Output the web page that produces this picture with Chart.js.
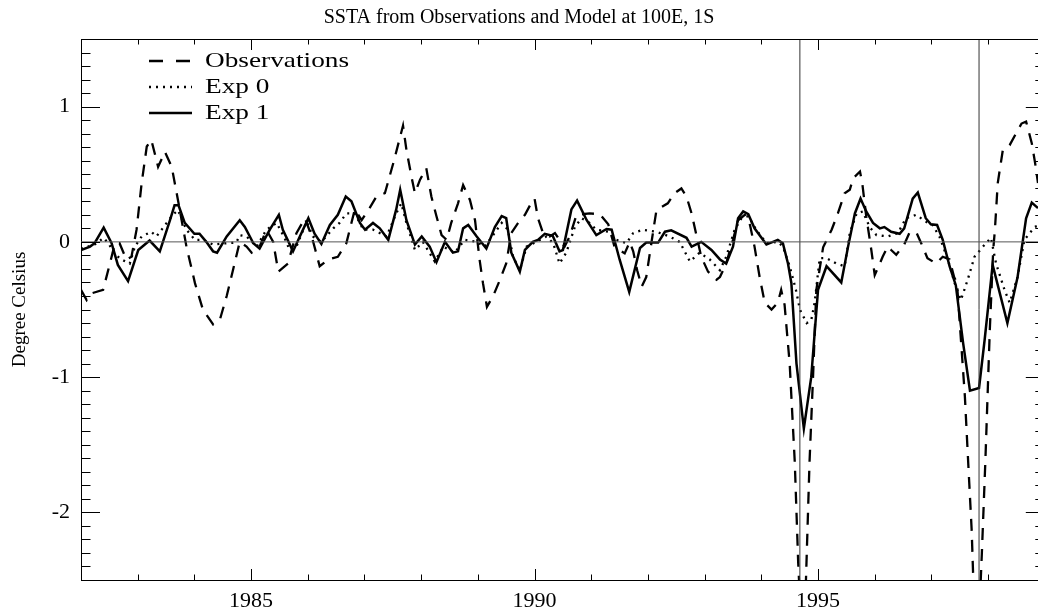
<!DOCTYPE html>
<html><head><meta charset="utf-8">
<script src="https://cdn.jsdelivr.net/npm/chart.js@4/dist/chart.umd.min.js"></script>
<style>html,body{margin:0;padding:0;background:#fff;overflow:hidden}#wrap{width:1038px;height:612px}</style>
</head><body><div id="wrap"><canvas id="c" width="1038" height="612"></canvas></div>
<script>
const chartTitle = 'SSTA from Observations and Model at 100E, 1S';
const yAxisTitle = 'Degree Celsius';
const seriesNames = ['Observations', 'Exp 0', 'Exp 1'];
const xMajorTicks = [1985, 1990, 1995];
const yMajorTicks = [-2, -1, 0, 1];
const markerYears = [1994.68, 1997.84];

const obsYears = [1982.00,1982.10,1982.19,1982.39,1982.51,1982.60,1982.68,1982.80,1982.89,1982.98,1983.07,1983.16,1983.24,1983.36,1983.48,1983.60,1983.71,1983.86,1984.01,1984.15,1984.33,1984.45,1984.57,1984.68,1984.80,1984.92,1985.01,1985.15,1985.27,1985.39,1985.48,1985.65,1985.80,1985.95,1986.07,1986.21,1986.36,1986.53,1986.68,1986.83,1986.95,1987.09,1987.21,1987.36,1987.52,1987.68,1987.74,1987.83,1987.89,1987.98,1988.09,1988.18,1988.27,1988.36,1988.45,1988.53,1988.65,1988.74,1988.86,1988.95,1989.03,1989.09,1989.16,1989.27,1989.39,1989.50,1989.59,1989.71,1989.83,1989.92,1990.00,1990.06,1990.15,1990.27,1990.36,1990.44,1990.53,1990.62,1990.74,1990.97,1991.15,1991.30,1991.41,1991.59,1991.68,1991.74,1991.81,1991.89,1991.97,1992.06,1992.15,1992.35,1992.47,1992.59,1992.68,1992.77,1992.86,1992.94,1993.06,1993.21,1993.27,1993.38,1993.50,1993.59,1993.71,1993.80,1993.88,1993.97,1994.06,1994.18,1994.29,1994.35,1994.41,1994.50,1994.59,1994.65,1994.71,1994.78,1994.85,1994.91,1994.97,1995.09,1995.24,1995.35,1995.47,1995.56,1995.62,1995.74,1995.78,1995.85,1995.94,1996.00,1996.09,1996.14,1996.23,1996.29,1996.38,1996.52,1996.61,1996.73,1996.82,1996.93,1997.08,1997.20,1997.32,1997.40,1997.45,1997.50,1997.59,1997.65,1997.71,1997.77,1997.84,1997.89,1997.95,1998.00,1998.03,1998.09,1998.12,1998.17,1998.26,1998.38,1998.49,1998.59,1998.67,1998.77,1998.83,1998.88];
const obsValues = [-0.355,-0.43,-0.38,-0.355,-0.16,-0.01,-0.01,-0.13,-0.11,0.09,0.435,0.705,0.755,0.555,0.665,0.555,0.31,-0.035,-0.305,-0.50,-0.61,-0.575,-0.40,-0.21,0.0,-0.035,-0.08,-0.035,0.09,0.0,-0.22,-0.16,0.065,0.175,0.04,-0.18,-0.13,-0.11,-0.01,0.24,0.16,0.25,0.335,0.36,0.60,0.86,0.68,0.48,0.36,0.46,0.545,0.335,0.19,0.05,0.015,0.14,0.285,0.42,0.31,0.16,-0.13,-0.305,-0.48,-0.40,-0.28,-0.16,0.065,0.14,0.20,0.27,0.32,0.175,0.065,0.04,0.065,0.015,-0.035,0.04,0.20,0.21,0.205,0.13,-0.035,-0.085,0.0,-0.07,-0.21,-0.33,-0.26,-0.01,0.235,0.285,0.36,0.395,0.335,0.21,0.04,-0.11,-0.22,-0.28,-0.26,-0.16,0.015,0.16,0.20,0.125,-0.035,-0.26,-0.45,-0.50,-0.45,-0.355,-0.465,-0.90,-1.63,-2.37,-2.9,-2.6,-1.63,-1.02,-0.355,-0.04,0.09,0.21,0.36,0.385,0.47,0.52,0.435,0.19,-0.06,-0.245,-0.16,-0.11,-0.035,-0.06,-0.095,-0.02,0.065,0.075,-0.01,-0.12,-0.16,-0.11,-0.13,-0.26,-0.30,-0.60,-1.14,-1.64,-2.13,-2.9,-2.8,-2.3,-1.64,-1.02,-0.65,-0.06,0.09,0.435,0.68,0.715,0.80,0.875,0.89,0.73,0.58,0.435];

const exp0Years = [1982.00,1982.24,1982.40,1982.50,1982.57,1982.71,1982.86,1982.95,1983.07,1983.24,1983.33,1983.62,1983.71,1983.86,1984.01,1984.15,1984.33,1984.57,1984.74,1984.80,1984.92,1985.10,1985.27,1985.45,1985.59,1985.68,1985.80,1985.98,1986.09,1986.24,1986.45,1986.56,1986.68,1986.83,1986.98,1987.15,1987.39,1987.56,1987.65,1987.74,1987.89,1988.03,1988.24,1988.39,1988.59,1988.77,1988.98,1989.12,1989.27,1989.42,1989.53,1989.62,1989.74,1989.86,1990.03,1990.21,1990.33,1990.44,1990.56,1990.71,1990.83,1990.97,1991.09,1991.30,1991.44,1991.62,1991.74,1991.91,1992.15,1992.38,1992.56,1992.74,1992.91,1993.09,1993.27,1993.38,1993.53,1993.65,1993.77,1993.91,1994.09,1994.29,1994.38,1994.50,1994.61,1994.68,1994.80,1994.88,1994.94,1995.03,1995.15,1995.32,1995.47,1995.56,1995.68,1995.79,1995.91,1996.03,1996.23,1996.41,1996.55,1996.73,1996.90,1997.02,1997.14,1997.29,1997.41,1997.52,1997.64,1997.76,1997.91,1998.05,1998.14,1998.29,1998.38,1998.52,1998.64,1998.82,1998.88];
const exp0Values = [-0.05,-0.02,0.03,-0.02,-0.08,-0.13,-0.16,-0.035,0.04,0.075,0.04,0.20,0.235,0.09,0.015,0.015,-0.02,-0.01,-0.005,0.05,0.04,-0.035,0.09,0.14,0.03,-0.06,-0.035,0.15,0.04,0.0,0.10,0.14,0.21,0.21,0.09,0.09,0.04,0.21,0.285,0.14,-0.06,0.0,-0.145,-0.035,-0.08,0.015,0.0,-0.035,0.05,0.14,0.09,-0.11,-0.21,-0.035,0.0,0.04,-0.01,-0.16,-0.08,0.11,0.175,0.14,0.09,0.075,0.015,-0.01,0.065,0.09,0.075,0.04,0.0,-0.145,-0.08,-0.13,-0.21,-0.11,0.09,0.175,0.19,0.09,-0.01,0.0,-0.035,-0.18,-0.355,-0.50,-0.60,-0.58,-0.45,-0.12,-0.12,-0.16,-0.18,0.065,0.21,0.225,0.11,0.05,0.04,0.065,0.175,0.20,0.15,0.125,0.04,-0.13,-0.305,-0.43,-0.28,-0.11,-0.035,0.03,-0.16,-0.355,-0.45,-0.26,0.015,0.11,0.12];

const exp1Years = [1982.00,1982.16,1982.24,1982.40,1982.54,1982.65,1982.83,1983.01,1983.21,1983.39,1983.57,1983.65,1983.72,1983.83,1984.00,1984.09,1984.21,1984.33,1984.40,1984.57,1984.80,1984.89,1985.04,1985.15,1985.33,1985.49,1985.56,1985.74,1985.86,1986.01,1986.12,1986.24,1986.39,1986.53,1986.67,1986.77,1986.92,1987.01,1987.15,1987.27,1987.42,1987.56,1987.63,1987.74,1987.89,1988.01,1988.15,1988.27,1988.42,1988.56,1988.65,1988.74,1988.83,1988.98,1989.15,1989.30,1989.42,1989.50,1989.59,1989.74,1989.83,1989.97,1990.06,1990.18,1990.32,1990.44,1990.50,1990.65,1990.75,1990.92,1991.09,1991.27,1991.36,1991.50,1991.67,1991.86,1991.97,1992.18,1992.30,1992.41,1992.68,1992.77,1992.94,1993.12,1993.27,1993.38,1993.50,1993.59,1993.68,1993.77,1993.88,1994.09,1994.29,1994.38,1994.47,1994.53,1994.62,1994.75,1994.88,1995.00,1995.15,1995.41,1995.53,1995.65,1995.75,1995.85,1995.97,1996.09,1996.17,1996.29,1996.44,1996.52,1996.67,1996.76,1996.90,1996.99,1997.10,1997.20,1997.32,1997.43,1997.56,1997.68,1997.84,1997.94,1998.08,1998.34,1998.52,1998.67,1998.77,1998.88];
const exp1Values = [-0.06,-0.035,-0.01,0.105,-0.01,-0.17,-0.29,-0.06,0.01,-0.07,0.16,0.27,0.27,0.14,0.06,0.06,0.0,-0.07,-0.08,0.04,0.16,0.11,-0.01,-0.05,0.09,0.20,0.09,-0.07,0.04,0.175,0.06,-0.015,0.125,0.20,0.335,0.30,0.14,0.09,0.14,0.10,0.015,0.24,0.385,0.16,-0.02,0.04,-0.035,-0.15,0.0,-0.08,-0.07,0.10,0.125,0.04,-0.05,0.11,0.19,0.175,-0.08,-0.22,-0.06,0.0,0.015,0.06,0.045,-0.07,-0.06,0.24,0.305,0.16,0.05,0.095,0.09,-0.13,-0.37,-0.045,-0.005,-0.005,0.075,0.085,0.03,-0.035,0.0,-0.06,-0.13,-0.16,-0.035,0.175,0.225,0.205,0.10,-0.02,0.015,-0.01,-0.16,-0.305,-0.90,-1.38,-1.00,-0.355,-0.18,-0.30,-0.035,0.21,0.32,0.225,0.14,0.10,0.11,0.075,0.06,0.10,0.32,0.365,0.175,0.13,0.125,0.015,-0.18,-0.32,-0.75,-1.10,-1.08,-0.72,-0.17,-0.60,-0.26,0.175,0.29,0.25];

const X_MIN = 1982, X_MAX = 1998.88, X_FRAME_END = 1999;
const Y_MIN = -2.5, Y_MAX = 1.5;

function pts(xs, ys) { return xs.map((x, i) => ({ x: x, y: ys[i] })); }
const SERIF = "'Liberation Serif', 'Times New Roman', serif";

const line = (label, data, extra) => Object.assign({
  label, data, borderColor: '#000', borderWidth: 2, pointRadius: 0, pointHoverRadius: 0,
  tension: 0, fill: false, borderCapStyle: 'butt', borderJoinStyle: 'miter'
}, extra || {});

const datasets = [
  line('zero', [{ x: X_MIN, y: 0 }, { x: X_FRAME_END, y: 0 }], { borderColor: '#555', borderWidth: 1 }),
  ...markerYears.map(yr => line('marker', [{ x: yr, y: Y_MIN }, { x: yr, y: Y_MAX }], { borderColor: '#333', borderWidth: 1 })),
  line(seriesNames[0], pts(obsYears, obsValues), { borderDash: [12, 9], borderWidth: 2.3 }),
  line(seriesNames[1], pts(exp0Years, exp0Values), { borderDash: [2, 5], borderWidth: 2.3 }),
  line(seriesNames[2], pts(exp1Years, exp1Values), { borderWidth: 2.5 })
];

const framePlugin = {
  id: 'frame',
  afterDraw(chart) {
    const { ctx, chartArea: a, scales: { x, y } } = chart;
    const xr = x.getPixelForValue(X_FRAME_END);
    ctx.save();
    ctx.strokeStyle = '#000';
    ctx.lineWidth = 1;
    ctx.beginPath();
    ctx.moveTo(a.left, a.top + 0.5); ctx.lineTo(xr, a.top + 0.5);
    ctx.moveTo(xr + 0.5, a.top); ctx.lineTo(xr + 0.5, a.bottom);
    for (let i = Math.round(Y_MIN * 10); i <= Math.round(Y_MAX * 10); i++) {
      const py = Math.round(y.getPixelForValue(i / 10)) + 0.5;
      const len = (i % 10 === 0) ? 19 : 9.5;
      ctx.moveTo(a.left, py); ctx.lineTo(a.left + len, py);
      ctx.moveTo(xr, py); ctx.lineTo(xr - len, py);
    }
    for (let yr = X_MIN; yr <= X_FRAME_END; yr++) {
      const px = Math.round(x.getPixelForValue(yr)) + 0.5;
      const len = (yr % 5 === 0) ? 11 : 5.5;
      ctx.moveTo(px, a.bottom); ctx.lineTo(px, a.bottom - len);
      ctx.moveTo(px, a.top); ctx.lineTo(px, a.top + len);
    }
    ctx.stroke();
    ctx.restore();
  }
};

const legendPlugin = {
  id: 'legendBox',
  afterDraw(chart) {
    const { ctx, chartArea: a } = chart;
    const items = chart.data.datasets.filter(d => seriesNames.includes(d.label));
    ctx.save();
    items.forEach((d, i) => {
      const yy = a.top + 22 + i * 26;
      ctx.beginPath();
      ctx.strokeStyle = d.borderColor;
      ctx.lineWidth = d.borderWidth;
      ctx.setLineDash(d.borderDash ? (d.borderDash[0] > 5 ? [14, 13] : d.borderDash) : []);
      ctx.moveTo(a.left + 68, yy); ctx.lineTo(a.left + 111, yy);
      ctx.stroke();
      ctx.setLineDash([]);
      ctx.fillStyle = '#000';
      ctx.font = "21px " + SERIF;
      ctx.textBaseline = 'middle';
      ctx.save();
      ctx.translate(a.left + 124, yy);
      ctx.scale(1.3, 1);
      ctx.fillText(d.label, 0, 0);
      ctx.restore();
    });
    ctx.restore();
  }
};

new Chart(document.getElementById('c'), {
  type: 'line',
  data: { datasets },
  options: {
    responsive: false, animation: false, devicePixelRatio: 1,
    layout: { padding: 0 },
    events: [],
    plugins: {
      legend: { display: false }, tooltip: { enabled: false },
      title: { display: true, text: chartTitle, color: '#000', font: { family: SERIF, size: 20, weight: 'normal' }, padding: { top: 6, bottom: 9 } }
    },
    scales: {
      x: {
        type: 'linear', min: X_MIN, max: X_MAX,
        afterBuildTicks: s => { s.ticks = xMajorTicks.map(v => ({ value: v })); },
        afterFit: s => { s.height = 32; },
        grid: { display: false, drawTicks: false },
        border: { display: true, color: '#000', width: 1 },
        ticks: { color: '#000', font: { family: SERIF, size: 22 }, padding: 8, maxRotation: 0, autoSkip: false, callback: v => String(v) }
      },
      y: {
        min: Y_MIN, max: Y_MAX,
        afterBuildTicks: s => { s.ticks = yMajorTicks.map(v => ({ value: v })); },
        afterFit: s => { s.width = 81; },
        grid: { display: false, drawTicks: false },
        border: { display: true, color: '#000', width: 1 },
        ticks: { color: '#000', font: { family: SERIF, size: 22 }, padding: 11, callback: v => String(v) },
        title: { display: true, text: yAxisTitle, color: '#000', font: { family: SERIF, size: 19 }, padding: { top: 9, bottom: 0 } }
      }
    }
  },
  plugins: [framePlugin, legendPlugin]
});
</script></body></html>
